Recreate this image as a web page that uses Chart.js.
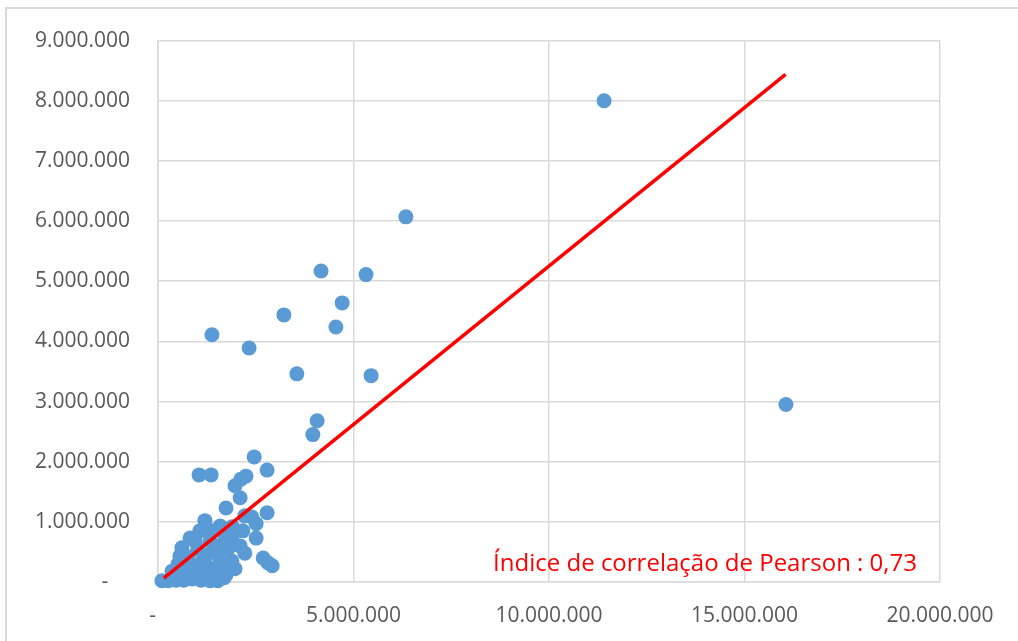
<!DOCTYPE html>
<html>
<head>
<meta charset="utf-8">
<script src="https://cdn.jsdelivr.net/npm/chart.js@4.4.0/dist/chart.umd.min.js"></script>
<style>
    html, body { margin: 0; padding: 0; background: #fff; }
    #wrap { position: relative; width: 1018px; height: 641px; }
</style>
</head>
<body>
<div id="wrap"><canvas id="chart" width="1018" height="641"></canvas></div>
<script>
// scatter points (x, y)
const xValues = [
    11410000, 16060000, 6340000, 4170000, 5320000, 4710000, 4550000, 3220000, 1380000, 2330000,
    3550000, 5450000, 4070000, 3960000, 2460000, 2790000, 1050000, 1360000, 2250000, 2120000,
    1970000, 2100000, 1740000, 2790000, 2400000, 2510000, 1200000, 1590000, 2170000, 2510000,
    1890000, 820000, 610000, 2690000, 2810000, 2920000, 1970000, 1510000, 1070000, 1380000,
    1710000, 1330000, 1020000, 1460000, 1790000, 2100000, 2220000, 770000, 1130000, 1590000,
    1890000, 510000, 870000, 1280000, 1640000, 360000, 690000, 1020000, 1330000, 1740000,
    100000, 260000, 460000, 660000, 870000, 1100000, 1330000, 1530000, 1690000, 560000,
    950000, 2220000, 1250000, 700000, 1550000, 1900000
];
const yValues = [
    8000000, 2950000, 6070000, 5170000, 5110000, 4640000, 4240000, 4440000, 4110000, 3890000,
    3460000, 3430000, 2680000, 2450000, 2080000, 1860000, 1780000, 1780000, 1760000, 1710000,
    1600000, 1400000, 1230000, 1150000, 1080000, 970000, 1020000, 930000, 850000, 730000,
    720000, 730000, 570000, 400000, 320000, 270000, 220000, 130000, 850000, 850000,
    770000, 680000, 550000, 520000, 550000, 600000, 480000, 420000, 350000, 350000,
    350000, 300000, 250000, 250000, 250000, 180000, 150000, 150000, 120000, 120000,
    20000, 20000, 30000, 30000, 50000, 30000, 20000, 20000, 70000, 430000,
    680000, 1100000, 450000, 300000, 600000, 920000
];

// trend line ends
const trendX = [150000, 16050000];
const trendY = [65000, 8440000];

const xTicks = [0, 5000000, 10000000, 15000000, 20000000];
const yTicks = [0, 1000000, 2000000, 3000000, 4000000, 5000000, 6000000, 7000000, 8000000, 9000000];

const noteText = 'Índice de correlação de Pearson : 0,73';

const fmt = (v, dash) => v === 0 ? dash : String(v).replace(/\B(?=(\d{3})+(?!\d))/g, '.');

const tickFont = { family: "'Open Sans', 'Noto Sans', sans-serif", size: 21 };
const gridColor = '#d9d9d9';

const framePlugin = {
    id: 'frame',
    beforeDraw(chart) {
        const ctx = chart.ctx;
        ctx.save();
        ctx.strokeStyle = gridColor;
        ctx.lineWidth = 2;
        ctx.beginPath();
        ctx.moveTo(6, 641);
        ctx.lineTo(6, 8);
        ctx.lineTo(1018, 8);
        ctx.stroke();
        ctx.restore();
    }
};

const notePlugin = {
    id: 'note',
    afterDatasetsDraw(chart) {
        const ctx = chart.ctx;
        const area = chart.chartArea;
        ctx.save();
        ctx.font = "24px 'Open Sans', 'Noto Sans', sans-serif";
        ctx.fillStyle = '#ff0000';
        ctx.textAlign = 'right';
        ctx.textBaseline = 'alphabetic';
        ctx.fillText(noteText, area.right - 23, area.bottom - 11);
        ctx.restore();
    }
};

new Chart(document.getElementById('chart'), {
    type: 'scatter',
    data: {
        datasets: [
            {
                type: 'line',
                data: trendX.map((x, i) => ({ x, y: trendY[i] })),
                borderColor: '#ff0000',
                borderWidth: 3.5,
                pointRadius: 0,
                fill: false
            },
            {
                data: xValues.map((x, i) => ({ x, y: yValues[i] })),
                backgroundColor: '#5b9bd5',
                borderWidth: 0,
                pointRadius: 7.5,
                clip: false
            }
        ]
    },
    options: {
        responsive: false,
        animation: false,
        events: [],
        layout: { padding: { top: 40, right: 78, left: 0, bottom: 0 } },
        plugins: { legend: { display: false }, tooltip: { enabled: false } },
        scales: {
            x: {
                type: 'linear',
                min: 0,
                max: 20000000,
                afterBuildTicks: s => { s.ticks = xTicks.map(v => ({ value: v })); },
                afterFit: s => { s.height = 59; },
                grid: { color: gridColor, lineWidth: 1.5, drawTicks: false },
                border: { color: gridColor, width: 1.5 },
                ticks: { font: tickFont, color: '#595959', padding: 21, maxRotation: 0, callback: v => fmt(v, '-  ') }
            },
            y: {
                min: 0,
                max: 9000000,
                afterBuildTicks: s => { s.ticks = yTicks.map(v => ({ value: v })); },
                afterFit: s => { s.width = 158; },
                grid: { color: gridColor, lineWidth: 1.5, drawTicks: false },
                border: { color: gridColor, width: 1.5 },
                ticks: { font: tickFont, color: '#595959', padding: 28, callback: v => fmt(v, '-    ') }
            }
        }
    },
    plugins: [framePlugin, notePlugin]
});
</script>
</body>
</html>
